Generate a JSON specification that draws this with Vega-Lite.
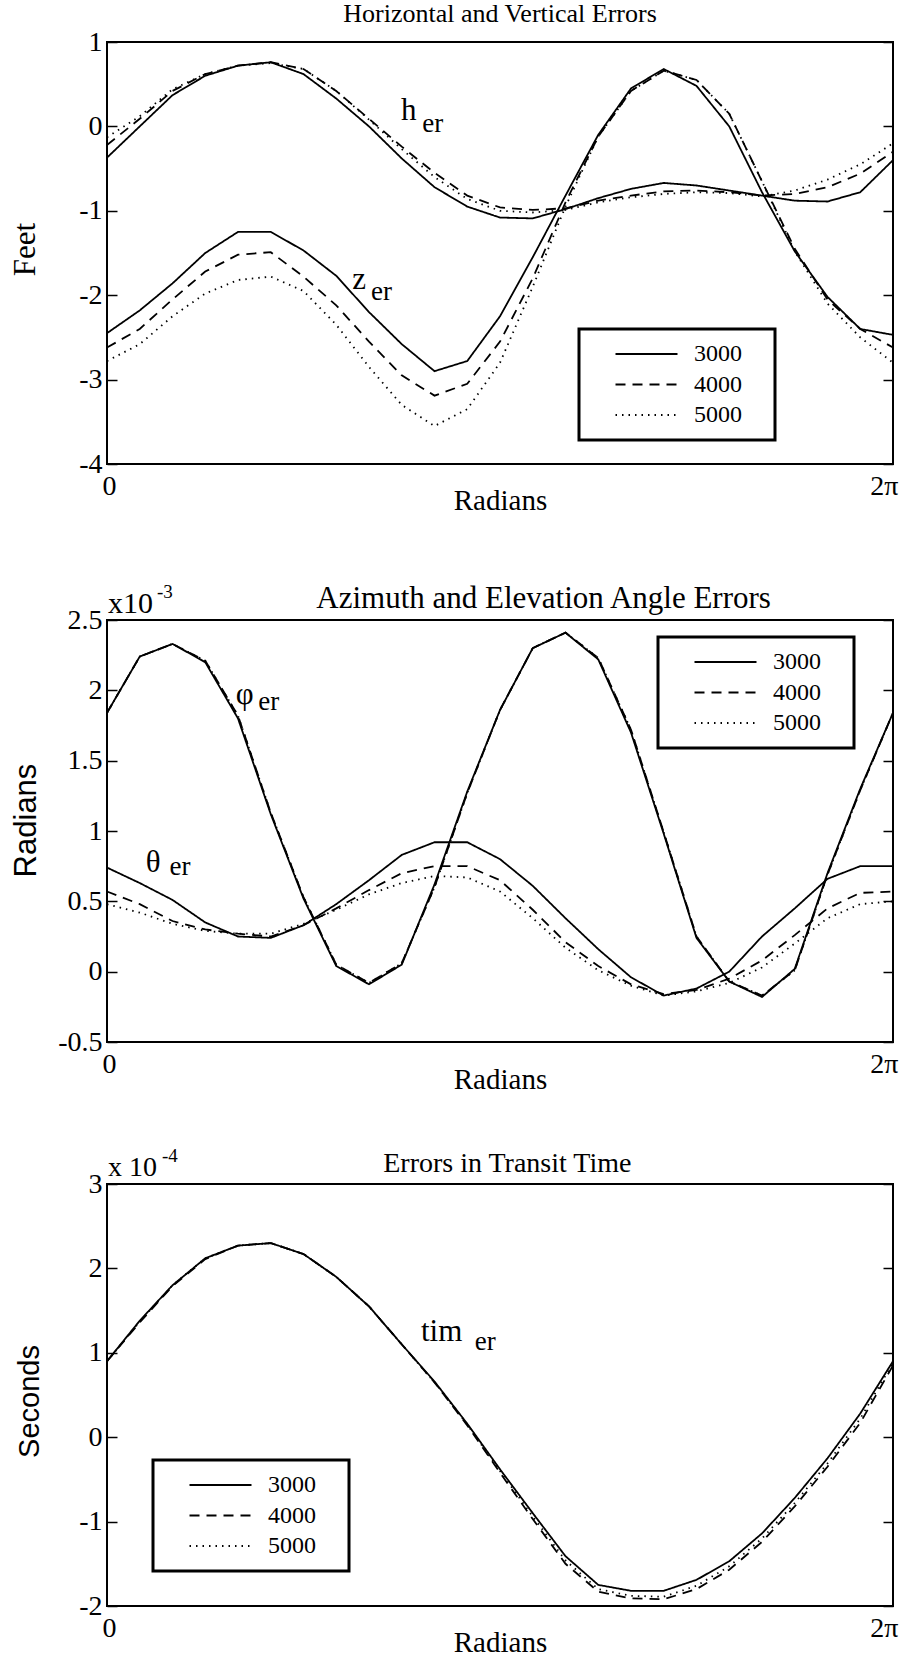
{
  "$schema": "https://vega.github.io/schema/vega-lite/v6.json",
  "background": "white",
  "padding": {"left": 8, "top": 0, "right": 0, "bottom": 0},
  "bounds": "flush",
  "spacing": 156,
  "config": {
    "view": {"stroke": "black", "strokeWidth": 2},
    "font": "Liberation Serif",
    "axis": {"grid": false, "domain": false, "labelFont": "Liberation Serif", "labelFontSize": 28, "labelColor": "black", "titleColor": "black", "titleFontWeight": "normal", "tickColor": "black", "tickWidth": 1.5},
    "legend": {"strokeColor": "black", "strokeWidth": 3, "labelFont": "Liberation Serif", "labelFontSize": 24, "labelColor": "black", "symbolType": "stroke", "symbolSize": 3844, "symbolStrokeWidth": 2.2, "symbolStrokeColor": "black", "clipHeight": 24, "rowPadding": 6.5, "padding": 13, "symbolOffset": 22, "labelOffset": 15, "fillColor": "white", "titleOrient": "right", "titleColor": "white", "titleFontSize": 10, "titlePadding": 17},
    "text": {"font": "Liberation Serif", "color": "black"}
  },
  "resolve": {"scale": {"x": "independent", "y": "independent", "strokeDash": "independent"}, "legend": {"strokeDash": "independent"}},
  "datasets": {
    "p1": [
      {"c": "h", "x": 0, "3000": -0.37, "4000": -0.22, "5000": -0.13},
      {"c": "h", "x": 0.2618, "3000": 0.0, "4000": 0.09, "5000": 0.12},
      {"c": "h", "x": 0.5236, "3000": 0.37, "4000": 0.42, "5000": 0.44},
      {"c": "h", "x": 0.7854, "3000": 0.6, "4000": 0.62, "5000": 0.62},
      {"c": "h", "x": 1.0472, "3000": 0.72, "4000": 0.72, "5000": 0.72},
      {"c": "h", "x": 1.309, "3000": 0.76, "4000": 0.76, "5000": 0.75},
      {"c": "h", "x": 1.5708, "3000": 0.62, "4000": 0.68, "5000": 0.68},
      {"c": "h", "x": 1.8326, "3000": 0.33, "4000": 0.42, "5000": 0.42},
      {"c": "h", "x": 2.0944, "3000": 0.0, "4000": 0.09, "5000": 0.08},
      {"c": "h", "x": 2.3562, "3000": -0.38, "4000": -0.24, "5000": -0.27},
      {"c": "h", "x": 2.618, "3000": -0.72, "4000": -0.55, "5000": -0.6},
      {"c": "h", "x": 2.8798, "3000": -0.95, "4000": -0.82, "5000": -0.86},
      {"c": "h", "x": 3.1416, "3000": -1.08, "4000": -0.96, "5000": -1.0},
      {"c": "h", "x": 3.4034, "3000": -1.09, "4000": -0.99, "5000": -1.02},
      {"c": "h", "x": 3.6652, "3000": -0.98, "4000": -0.97, "5000": -0.99},
      {"c": "h", "x": 3.927, "3000": -0.85, "4000": -0.88, "5000": -0.9},
      {"c": "h", "x": 4.1888, "3000": -0.74, "4000": -0.82, "5000": -0.84},
      {"c": "h", "x": 4.4506, "3000": -0.67, "4000": -0.77, "5000": -0.8},
      {"c": "h", "x": 4.7124, "3000": -0.7, "4000": -0.76, "5000": -0.78},
      {"c": "h", "x": 4.9742, "3000": -0.76, "4000": -0.78, "5000": -0.79},
      {"c": "h", "x": 5.236, "3000": -0.82, "4000": -0.82, "5000": -0.83},
      {"c": "h", "x": 5.4978, "3000": -0.88, "4000": -0.8, "5000": -0.76},
      {"c": "h", "x": 5.7596, "3000": -0.89, "4000": -0.72, "5000": -0.63},
      {"c": "h", "x": 6.0214, "3000": -0.78, "4000": -0.56, "5000": -0.45},
      {"c": "h", "x": 6.2832, "3000": -0.4, "4000": -0.3, "5000": -0.2},
      {"c": "z", "x": 0, "3000": -2.45, "4000": -2.62, "5000": -2.78},
      {"c": "z", "x": 0.2618, "3000": -2.18, "4000": -2.4, "5000": -2.58},
      {"c": "z", "x": 0.5236, "3000": -1.86, "4000": -2.05, "5000": -2.25},
      {"c": "z", "x": 0.7854, "3000": -1.5, "4000": -1.72, "5000": -1.98},
      {"c": "z", "x": 1.0472, "3000": -1.25, "4000": -1.52, "5000": -1.82},
      {"c": "z", "x": 1.309, "3000": -1.25, "4000": -1.49, "5000": -1.78},
      {"c": "z", "x": 1.5708, "3000": -1.47, "4000": -1.78, "5000": -1.95},
      {"c": "z", "x": 1.8326, "3000": -1.77, "4000": -2.12, "5000": -2.35},
      {"c": "z", "x": 2.0944, "3000": -2.2, "4000": -2.55, "5000": -2.85},
      {"c": "z", "x": 2.3562, "3000": -2.58, "4000": -2.95, "5000": -3.3},
      {"c": "z", "x": 2.618, "3000": -2.9, "4000": -3.19, "5000": -3.55},
      {"c": "z", "x": 2.8798, "3000": -2.78, "4000": -3.05, "5000": -3.35},
      {"c": "z", "x": 3.1416, "3000": -2.25, "4000": -2.55, "5000": -2.8},
      {"c": "z", "x": 3.4034, "3000": -1.55, "4000": -1.8, "5000": -1.9},
      {"c": "z", "x": 3.6652, "3000": -0.82, "4000": -0.9, "5000": -0.95},
      {"c": "z", "x": 3.927, "3000": -0.1, "4000": -0.12, "5000": -0.12},
      {"c": "z", "x": 4.1888, "3000": 0.45, "4000": 0.42, "5000": 0.42},
      {"c": "z", "x": 4.4506, "3000": 0.68, "4000": 0.66, "5000": 0.66},
      {"c": "z", "x": 4.7124, "3000": 0.48, "4000": 0.55, "5000": 0.55},
      {"c": "z", "x": 4.9742, "3000": 0.0, "4000": 0.15, "5000": 0.15},
      {"c": "z", "x": 5.236, "3000": -0.78, "4000": -0.65, "5000": -0.65},
      {"c": "z", "x": 5.4978, "3000": -1.48, "4000": -1.45, "5000": -1.48},
      {"c": "z", "x": 5.7596, "3000": -2.02, "4000": -2.05, "5000": -2.1},
      {"c": "z", "x": 6.0214, "3000": -2.4, "4000": -2.4, "5000": -2.5},
      {"c": "z", "x": 6.2832, "3000": -2.47, "4000": -2.62, "5000": -2.8}
    ],
    "p2": [
      {"c": "phi", "x": 0, "3000": 1.84, "4000": 1.84, "5000": 1.84},
      {"c": "phi", "x": 0.2618, "3000": 2.24, "4000": 2.24, "5000": 2.24},
      {"c": "phi", "x": 0.5236, "3000": 2.33, "4000": 2.33, "5000": 2.33},
      {"c": "phi", "x": 0.7854, "3000": 2.2, "4000": 2.21, "5000": 2.21},
      {"c": "phi", "x": 1.0472, "3000": 1.8, "4000": 1.82, "5000": 1.82},
      {"c": "phi", "x": 1.309, "3000": 1.12, "4000": 1.13, "5000": 1.13},
      {"c": "phi", "x": 1.5708, "3000": 0.52, "4000": 0.53, "5000": 0.53},
      {"c": "phi", "x": 1.8326, "3000": 0.04, "4000": 0.05, "5000": 0.05},
      {"c": "phi", "x": 2.0944, "3000": -0.09, "4000": -0.08, "5000": -0.08},
      {"c": "phi", "x": 2.3562, "3000": 0.05, "4000": 0.06, "5000": 0.06},
      {"c": "phi", "x": 2.618, "3000": 0.62, "4000": 0.6, "5000": 0.6},
      {"c": "phi", "x": 2.8798, "3000": 1.28, "4000": 1.27, "5000": 1.27},
      {"c": "phi", "x": 3.1416, "3000": 1.86, "4000": 1.86, "5000": 1.86},
      {"c": "phi", "x": 3.4034, "3000": 2.3, "4000": 2.3, "5000": 2.3},
      {"c": "phi", "x": 3.6652, "3000": 2.41, "4000": 2.41, "5000": 2.41},
      {"c": "phi", "x": 3.927, "3000": 2.22, "4000": 2.23, "5000": 2.23},
      {"c": "phi", "x": 4.1888, "3000": 1.7, "4000": 1.72, "5000": 1.72},
      {"c": "phi", "x": 4.4506, "3000": 0.98, "4000": 0.99, "5000": 0.99},
      {"c": "phi", "x": 4.7124, "3000": 0.24, "4000": 0.25, "5000": 0.25},
      {"c": "phi", "x": 4.9742, "3000": -0.07, "4000": -0.07, "5000": -0.07},
      {"c": "phi", "x": 5.236, "3000": -0.18, "4000": -0.17, "5000": -0.17},
      {"c": "phi", "x": 5.4978, "3000": 0.02, "4000": 0.01, "5000": 0.01},
      {"c": "phi", "x": 5.7596, "3000": 0.7, "4000": 0.69, "5000": 0.69},
      {"c": "phi", "x": 6.0214, "3000": 1.3, "4000": 1.29, "5000": 1.29},
      {"c": "phi", "x": 6.2832, "3000": 1.84, "4000": 1.84, "5000": 1.84},
      {"c": "theta", "x": 0, "3000": 0.74, "4000": 0.57, "5000": 0.48},
      {"c": "theta", "x": 0.2618, "3000": 0.63, "4000": 0.48, "5000": 0.42},
      {"c": "theta", "x": 0.5236, "3000": 0.51, "4000": 0.36, "5000": 0.34},
      {"c": "theta", "x": 0.7854, "3000": 0.35, "4000": 0.3, "5000": 0.29},
      {"c": "theta", "x": 1.0472, "3000": 0.25, "4000": 0.27, "5000": 0.27},
      {"c": "theta", "x": 1.309, "3000": 0.24, "4000": 0.25, "5000": 0.27},
      {"c": "theta", "x": 1.5708, "3000": 0.33, "4000": 0.33, "5000": 0.34},
      {"c": "theta", "x": 1.8326, "3000": 0.48, "4000": 0.45, "5000": 0.44},
      {"c": "theta", "x": 2.0944, "3000": 0.65, "4000": 0.58, "5000": 0.55},
      {"c": "theta", "x": 2.3562, "3000": 0.83, "4000": 0.7, "5000": 0.63},
      {"c": "theta", "x": 2.618, "3000": 0.92, "4000": 0.75, "5000": 0.68},
      {"c": "theta", "x": 2.8798, "3000": 0.92, "4000": 0.75, "5000": 0.67},
      {"c": "theta", "x": 3.1416, "3000": 0.8, "4000": 0.65, "5000": 0.57},
      {"c": "theta", "x": 3.4034, "3000": 0.61, "4000": 0.44, "5000": 0.38},
      {"c": "theta", "x": 3.6652, "3000": 0.38, "4000": 0.21, "5000": 0.17},
      {"c": "theta", "x": 3.927, "3000": 0.16, "4000": 0.04, "5000": 0.01},
      {"c": "theta", "x": 4.1888, "3000": -0.04, "4000": -0.09, "5000": -0.1},
      {"c": "theta", "x": 4.4506, "3000": -0.17, "4000": -0.16, "5000": -0.17},
      {"c": "theta", "x": 4.7124, "3000": -0.12, "4000": -0.13, "5000": -0.14},
      {"c": "theta", "x": 4.9742, "3000": 0.0, "4000": -0.05, "5000": -0.08},
      {"c": "theta", "x": 5.236, "3000": 0.25, "4000": 0.08, "5000": 0.03},
      {"c": "theta", "x": 5.4978, "3000": 0.45, "4000": 0.26, "5000": 0.2},
      {"c": "theta", "x": 5.7596, "3000": 0.66, "4000": 0.45, "5000": 0.38},
      {"c": "theta", "x": 6.0214, "3000": 0.75, "4000": 0.56, "5000": 0.48},
      {"c": "theta", "x": 6.2832, "3000": 0.75, "4000": 0.57, "5000": 0.5}
    ],
    "p3": [
      {"c": "tim", "x": 0, "3000": 0.9, "4000": 0.9, "5000": 0.9},
      {"c": "tim", "x": 0.2618, "3000": 1.38, "4000": 1.36, "5000": 1.37},
      {"c": "tim", "x": 0.5236, "3000": 1.8, "4000": 1.79, "5000": 1.8},
      {"c": "tim", "x": 0.7854, "3000": 2.12, "4000": 2.11, "5000": 2.12},
      {"c": "tim", "x": 1.0472, "3000": 2.27, "4000": 2.27, "5000": 2.27},
      {"c": "tim", "x": 1.309, "3000": 2.3, "4000": 2.3, "5000": 2.3},
      {"c": "tim", "x": 1.5708, "3000": 2.17, "4000": 2.17, "5000": 2.17},
      {"c": "tim", "x": 1.8326, "3000": 1.9, "4000": 1.9, "5000": 1.9},
      {"c": "tim", "x": 2.0944, "3000": 1.55, "4000": 1.55, "5000": 1.55},
      {"c": "tim", "x": 2.3562, "3000": 1.1, "4000": 1.1, "5000": 1.1},
      {"c": "tim", "x": 2.618, "3000": 0.66, "4000": 0.65, "5000": 0.65},
      {"c": "tim", "x": 2.8798, "3000": 0.16, "4000": 0.14, "5000": 0.15},
      {"c": "tim", "x": 3.1416, "3000": -0.38, "4000": -0.42, "5000": -0.4},
      {"c": "tim", "x": 3.4034, "3000": -0.9, "4000": -0.97, "5000": -0.94},
      {"c": "tim", "x": 3.6652, "3000": -1.41, "4000": -1.5, "5000": -1.46},
      {"c": "tim", "x": 3.927, "3000": -1.75, "4000": -1.83, "5000": -1.8},
      {"c": "tim", "x": 4.1888, "3000": -1.82, "4000": -1.91, "5000": -1.88},
      {"c": "tim", "x": 4.4506, "3000": -1.82, "4000": -1.92, "5000": -1.89},
      {"c": "tim", "x": 4.7124, "3000": -1.69, "4000": -1.8, "5000": -1.76},
      {"c": "tim", "x": 4.9742, "3000": -1.47, "4000": -1.57, "5000": -1.53},
      {"c": "tim", "x": 5.236, "3000": -1.14, "4000": -1.24, "5000": -1.2},
      {"c": "tim", "x": 5.4978, "3000": -0.72, "4000": -0.82, "5000": -0.78},
      {"c": "tim", "x": 5.7596, "3000": -0.25, "4000": -0.35, "5000": -0.31},
      {"c": "tim", "x": 6.0214, "3000": 0.28, "4000": 0.17, "5000": 0.22},
      {"c": "tim", "x": 6.2832, "3000": 0.9, "4000": 0.85, "5000": 0.88}
    ],
    "t1": [
      {"k": "main", "x": 2.35, "y": 0.07, "t": "h"},
      {"k": "sub", "x": 2.52, "y": -0.07, "t": "er"},
      {"k": "main", "x": 1.96, "y": -1.93, "t": "z"},
      {"k": "sub", "x": 2.11, "y": -2.06, "t": "er"},
      {"k": "title", "x": 3.1416, "y": 1, "t": "Horizontal and Vertical Errors"}
    ],
    "t2": [
      {"k": "main", "x": 1.03, "y": 1.9, "t": "φ"},
      {"k": "sub", "x": 1.21, "y": 1.86, "t": "er"},
      {"k": "main", "x": 0.31, "y": 0.71, "t": "θ"},
      {"k": "sub", "x": 0.5, "y": 0.69, "t": "er"},
      {"k": "title", "x": 3.49, "y": 2.5, "t": "Azimuth and Elevation Angle Errors"},
      {"k": "exp", "x": 0, "y": 2.5, "t": "x10"},
      {"k": "pow", "x": 0, "y": 2.5, "t": "-3"}
    ],
    "t3": [
      {"k": "main", "x": 2.51, "y": 1.14, "t": "tim"},
      {"k": "sub", "x": 2.94, "y": 1.03, "t": "er"},
      {"k": "title", "x": 3.2, "y": 3, "t": "Errors in Transit Time"},
      {"k": "exp", "x": 0, "y": 3, "t": "x 10"},
      {"k": "pow", "x": 0, "y": 3, "t": "-4"}
    ]
  },
  "vconcat": [
    {
      "width": 786, "height": 422,
      "resolve": {"axis": {"y": "independent", "x": "independent"}},
      "layer": [
        {
          "data": {"name": "p1"},
          "transform": [{"fold": ["3000", "4000", "5000"], "as": ["s", "y"]}],
          "mark": {"type": "line", "color": "black", "strokeWidth": 1.8},
          "encoding": {
            "x": {"field": "x", "type": "quantitative", "scale": {"domain": [0, 6.2832], "nice": false, "zero": false},
              "axis": {"values": [0, 6.2832], "labelExpr": "datum.value < 1 ? '0' : '2π'", "ticks": false, "labelPadding": 8, "labelFlush": true, "labelFlushOffset": 5, "title": "Radians", "titleFont": "Liberation Serif", "titleFontSize": 29, "titleY": 45, "titleBaseline": "alphabetic"}},
            "y": {"field": "y", "type": "quantitative", "scale": {"domain": [-4, 1], "nice": false, "zero": false},
              "axis": {"values": [-4, -3, -2, -1, 0, 1], "labelExpr": "toString(datum.value)", "tickSize": -10, "labelPadding": 15, "title": "Feet", "titleFont": "Liberation Serif", "titleFontSize": 31, "titleX": -73, "titleY": 207, "titleBaseline": "alphabetic", "titleAlign": "center", "titleAngle": 270}},
            "strokeDash": {"field": "s", "type": "nominal", "scale": {"domain": ["3000", "4000", "5000"], "range": [[1, 0], [10, 7], [1.5, 5]]},
              "legend": {"orient": "none", "legendX": 472, "legendY": 287, "title": ".", "titleOrient": "right", "titleColor": "white", "titleFontSize": 10, "titlePadding": 17}},
            "detail": {"field": "c", "type": "nominal"}
          }
        },
        {
          "data": {"name": "t1"},
          "transform": [{"filter": "datum.k == 'main'"}],
          "mark": {"type": "text", "fontSize": 31, "align": "left", "baseline": "alphabetic"},
          "encoding": {
            "x": {"field": "x", "type": "quantitative", "scale": {"domain": [0, 6.2832], "nice": false, "zero": false}, "axis": null},
            "y": {"field": "y", "type": "quantitative", "scale": {"domain": [-4, 1], "nice": false, "zero": false},
              "axis": {"orient": "right", "values": [-4, -3, -2, -1, 0, 1], "labels": false, "title": null, "tickSize": -10}},
            "text": {"field": "t"}
          }
        },
        {
          "data": {"name": "t1"},
          "transform": [{"filter": "datum.k == 'sub'"}],
          "mark": {"type": "text", "fontSize": 27, "align": "left", "baseline": "alphabetic"},
          "encoding": {
            "x": {"field": "x", "type": "quantitative", "scale": {"domain": [0, 6.2832], "nice": false, "zero": false}, "axis": null},
            "y": {"field": "y", "type": "quantitative", "scale": {"domain": [-4, 1], "nice": false, "zero": false}, "axis": null},
            "text": {"field": "t"}
          }
        },
        {
          "data": {"name": "t1"},
          "transform": [{"filter": "datum.k == 'title'"}],
          "mark": {"type": "text", "fontSize": 26, "align": "center", "baseline": "alphabetic", "dy": -20},
          "encoding": {
            "x": {"field": "x", "type": "quantitative", "scale": {"domain": [0, 6.2832], "nice": false, "zero": false}, "axis": null},
            "y": {"field": "y", "type": "quantitative", "scale": {"domain": [-4, 1], "nice": false, "zero": false}, "axis": null},
            "text": {"field": "t"}
          }
        }
      ]
    },
    {
      "bounds": "flush",
      "spacing": 142,
      "resolve": {"scale": {"x": "independent", "y": "independent", "strokeDash": "independent"}, "legend": {"strokeDash": "independent"}},
      "vconcat": [
        {
          "width": 786, "height": 422,
          "resolve": {"axis": {"y": "independent", "x": "independent"}},
          "layer": [
            {
              "data": {"name": "p2"},
              "transform": [{"fold": ["3000", "4000", "5000"], "as": ["s", "y"]}],
              "mark": {"type": "line", "color": "black", "strokeWidth": 1.8},
              "encoding": {
                "x": {"field": "x", "type": "quantitative", "scale": {"domain": [0, 6.2832], "nice": false, "zero": false},
                  "axis": {"values": [0, 6.2832], "labelExpr": "datum.value < 1 ? '0' : '2π'", "ticks": false, "labelPadding": 8, "labelFlush": true, "labelFlushOffset": 5, "title": "Radians", "titleFont": "Liberation Serif", "titleFontSize": 29, "titleY": 46, "titleBaseline": "alphabetic"}},
                "y": {"field": "y", "type": "quantitative", "scale": {"domain": [-0.5, 2.5], "nice": false, "zero": false},
                  "axis": {"values": [-0.5, 0, 0.5, 1, 1.5, 2, 2.5], "labelExpr": "toString(datum.value)", "tickSize": -10, "labelPadding": 15, "title": "Radians", "titleFont": "Liberation Sans", "titleFontSize": 31, "titleX": -72, "titleY": 200, "titleBaseline": "alphabetic", "titleAlign": "center", "titleAngle": 270}},
                "strokeDash": {"field": "s", "type": "nominal", "scale": {"domain": ["3000", "4000", "5000"], "range": [[1, 0], [10, 7], [1.5, 5]]},
                  "legend": {"orient": "none", "legendX": 551, "legendY": 17, "title": ".", "titleOrient": "right", "titleColor": "white", "titleFontSize": 10, "titlePadding": 17}},
                "detail": {"field": "c", "type": "nominal"}
              }
            },
            {
              "data": {"name": "t2"},
              "transform": [{"filter": "datum.k == 'main'"}],
              "mark": {"type": "text", "fontSize": 31, "align": "left", "baseline": "alphabetic"},
              "encoding": {
                "x": {"field": "x", "type": "quantitative", "scale": {"domain": [0, 6.2832], "nice": false, "zero": false}, "axis": null},
                "y": {"field": "y", "type": "quantitative", "scale": {"domain": [-0.5, 2.5], "nice": false, "zero": false},
                  "axis": {"orient": "right", "values": [-0.5, 0, 0.5, 1, 1.5, 2, 2.5], "labels": false, "title": null, "tickSize": -10}},
                "text": {"field": "t"}
              }
            },
            {
              "data": {"name": "t2"},
              "transform": [{"filter": "datum.k == 'sub'"}],
              "mark": {"type": "text", "fontSize": 27, "align": "left", "baseline": "alphabetic"},
              "encoding": {
                "x": {"field": "x", "type": "quantitative", "scale": {"domain": [0, 6.2832], "nice": false, "zero": false}, "axis": null},
                "y": {"field": "y", "type": "quantitative", "scale": {"domain": [-0.5, 2.5], "nice": false, "zero": false}, "axis": null},
                "text": {"field": "t"}
              }
            },
            {
              "data": {"name": "t2"},
              "transform": [{"filter": "datum.k == 'title'"}],
              "mark": {"type": "text", "fontSize": 31, "align": "center", "baseline": "alphabetic", "dy": -12},
              "encoding": {
                "x": {"field": "x", "type": "quantitative", "scale": {"domain": [0, 6.2832], "nice": false, "zero": false}, "axis": null},
                "y": {"field": "y", "type": "quantitative", "scale": {"domain": [-0.5, 2.5], "nice": false, "zero": false}, "axis": null},
                "text": {"field": "t"}
              }
            },
            {
              "data": {"name": "t2"},
              "transform": [{"filter": "datum.k == 'exp'"}],
              "mark": {"type": "text", "fontSize": 30, "align": "left", "baseline": "alphabetic", "dx": 1, "dy": -7},
              "encoding": {
                "x": {"field": "x", "type": "quantitative", "scale": {"domain": [0, 6.2832], "nice": false, "zero": false}, "axis": null},
                "y": {"field": "y", "type": "quantitative", "scale": {"domain": [-0.5, 2.5], "nice": false, "zero": false}, "axis": null},
                "text": {"field": "t"}
              }
            },
            {
              "data": {"name": "t2"},
              "transform": [{"filter": "datum.k == 'pow'"}],
              "mark": {"type": "text", "fontSize": 19, "align": "left", "baseline": "alphabetic", "dx": 50, "dy": -22},
              "encoding": {
                "x": {"field": "x", "type": "quantitative", "scale": {"domain": [0, 6.2832], "nice": false, "zero": false}, "axis": null},
                "y": {"field": "y", "type": "quantitative", "scale": {"domain": [-0.5, 2.5], "nice": false, "zero": false}, "axis": null},
                "text": {"field": "t"}
              }
            }
          ]
        },
        {
          "width": 786, "height": 422,
          "resolve": {"axis": {"y": "independent", "x": "independent"}},
          "layer": [
            {
              "data": {"name": "p3"},
              "transform": [{"fold": ["3000", "4000", "5000"], "as": ["s", "y"]}],
              "mark": {"type": "line", "color": "black", "strokeWidth": 1.8},
              "encoding": {
                "x": {"field": "x", "type": "quantitative", "scale": {"domain": [0, 6.2832], "nice": false, "zero": false},
                  "axis": {"values": [0, 6.2832], "labelExpr": "datum.value < 1 ? '0' : '2π'", "ticks": false, "labelPadding": 8, "labelFlush": true, "labelFlushOffset": 5, "title": "Radians", "titleFont": "Liberation Serif", "titleFontSize": 29, "titleY": 45, "titleBaseline": "alphabetic"}},
                "y": {"field": "y", "type": "quantitative", "scale": {"domain": [-2, 3], "nice": false, "zero": false},
                  "axis": {"values": [-2, -1, 0, 1, 2, 3], "labelExpr": "toString(datum.value)", "tickSize": -10, "labelPadding": 15, "title": "Seconds", "titleFont": "Liberation Sans", "titleFontSize": 29, "titleX": -69, "titleY": 217, "titleBaseline": "alphabetic", "titleAlign": "center", "titleAngle": 270}},
                "strokeDash": {"field": "s", "type": "nominal", "scale": {"domain": ["3000", "4000", "5000"], "range": [[1, 0], [10, 7], [1.5, 5]]},
                  "legend": {"orient": "none", "legendX": 46, "legendY": 276, "title": ".", "titleOrient": "right", "titleColor": "white", "titleFontSize": 10, "titlePadding": 17}},
                "detail": {"field": "c", "type": "nominal"}
              }
            },
            {
              "data": {"name": "t3"},
              "transform": [{"filter": "datum.k == 'main'"}],
              "mark": {"type": "text", "fontSize": 31, "align": "left", "baseline": "alphabetic"},
              "encoding": {
                "x": {"field": "x", "type": "quantitative", "scale": {"domain": [0, 6.2832], "nice": false, "zero": false}, "axis": null},
                "y": {"field": "y", "type": "quantitative", "scale": {"domain": [-2, 3], "nice": false, "zero": false},
                  "axis": {"orient": "right", "values": [-2, -1, 0, 1, 2, 3], "labels": false, "title": null, "tickSize": -10}},
                "text": {"field": "t"}
              }
            },
            {
              "data": {"name": "t3"},
              "transform": [{"filter": "datum.k == 'sub'"}],
              "mark": {"type": "text", "fontSize": 27, "align": "left", "baseline": "alphabetic"},
              "encoding": {
                "x": {"field": "x", "type": "quantitative", "scale": {"domain": [0, 6.2832], "nice": false, "zero": false}, "axis": null},
                "y": {"field": "y", "type": "quantitative", "scale": {"domain": [-2, 3], "nice": false, "zero": false}, "axis": null},
                "text": {"field": "t"}
              }
            },
            {
              "data": {"name": "t3"},
              "transform": [{"filter": "datum.k == 'title'"}],
              "mark": {"type": "text", "fontSize": 28, "align": "center", "baseline": "alphabetic", "dy": -12},
              "encoding": {
                "x": {"field": "x", "type": "quantitative", "scale": {"domain": [0, 6.2832], "nice": false, "zero": false}, "axis": null},
                "y": {"field": "y", "type": "quantitative", "scale": {"domain": [-2, 3], "nice": false, "zero": false}, "axis": null},
                "text": {"field": "t"}
              }
            },
            {
              "data": {"name": "t3"},
              "transform": [{"filter": "datum.k == 'exp'"}],
              "mark": {"type": "text", "fontSize": 28, "align": "left", "baseline": "alphabetic", "dx": 1, "dy": -8},
              "encoding": {
                "x": {"field": "x", "type": "quantitative", "scale": {"domain": [0, 6.2832], "nice": false, "zero": false}, "axis": null},
                "y": {"field": "y", "type": "quantitative", "scale": {"domain": [-2, 3], "nice": false, "zero": false}, "axis": null},
                "text": {"field": "t"}
              }
            },
            {
              "data": {"name": "t3"},
              "transform": [{"filter": "datum.k == 'pow'"}],
              "mark": {"type": "text", "fontSize": 19, "align": "left", "baseline": "alphabetic", "dx": 55, "dy": -22},
              "encoding": {
                "x": {"field": "x", "type": "quantitative", "scale": {"domain": [0, 6.2832], "nice": false, "zero": false}, "axis": null},
                "y": {"field": "y", "type": "quantitative", "scale": {"domain": [-2, 3], "nice": false, "zero": false}, "axis": null},
                "text": {"field": "t"}
              }
            }
          ]
        }
      ]
    }
  ]
}
